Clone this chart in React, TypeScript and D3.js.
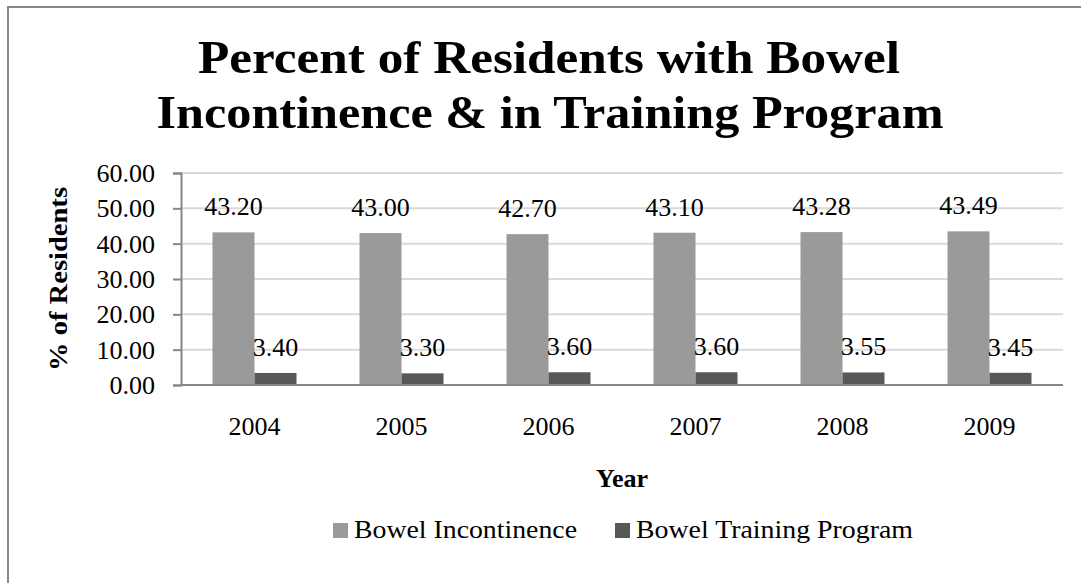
import React, { useEffect, useRef } from "react";
import * as d3 from "d3";

const years = ["2004", "2005", "2006", "2007", "2008", "2009"];
const incontinence = [43.2, 43.0, 42.7, 43.1, 43.28, 43.49];
const training = [3.4, 3.3, 3.6, 3.6, 3.55, 3.45];
const yTicks = [0, 10, 20, 30, 40, 50, 60];
const seriesNames = ["Bowel Incontinence", "Bowel Training Program"];
const seriesColors = ["#9a9a9a", "#585858"];
const titleLines = ["Percent of Residents with Bowel", "Incontinence & in Training Program"];
const xTitle = "Year";
const yTitle = "% of Residents";

const W = 1081;
const H = 583;
const FONT = "'Liberation Serif', 'Times New Roman', serif";

export default function App() {
  const ref = useRef<SVGSVGElement | null>(null);

  useEffect(() => {
    const svg = d3.select(ref.current);
    svg.selectAll("*").remove();

    const left = 181, right = 1063, top = 173, bottom = 385;

    // outer border
    svg.append("rect")
      .attr("x", 8).attr("y", 7).attr("width", W + 20).attr("height", H + 20)
      .attr("fill", "white").attr("stroke", "#868686").attr("stroke-width", 2);

    // title
    const title = svg.append("g").attr("font-family", FONT).attr("font-weight", "bold")
      .attr("font-size", 46).attr("fill", "#000").attr("text-anchor", "middle");
    const titleWidths = [702, 787];
    const titleX = [549, 550];
    titleLines.forEach((t, i) => {
      title.append("text").attr("x", titleX[i]).attr("y", 73 + i * 55)
        .attr("textLength", titleWidths[i]).attr("lengthAdjust", "spacingAndGlyphs")
        .text(t);
    });

    const y = d3.scaleLinear().domain([0, 60]).range([bottom, top]);
    const inner = 1.5 / 3.5;
    const x0 = d3.scaleBand<string>().domain(years).range([left, right])
      .paddingInner(inner).paddingOuter(inner / 2);
    const x1 = d3.scaleBand<number>().domain([0, 1]).range([0, x0.bandwidth()]);

    // gridlines
    svg.append("g").selectAll("line").data(yTicks.filter(d => d > 0)).join("line")
      .attr("x1", left).attr("x2", right)
      .attr("y1", d => y(d)).attr("y2", d => y(d))
      .attr("stroke", "#d9d9d9").attr("stroke-width", 2);

    // bars
    const series = [incontinence, training];
    series.forEach((vals, si) => {
      svg.append("g").selectAll("rect").data(vals).join("rect")
        .attr("x", (d, i) => (x0(years[i]) as number) + (x1(si) as number))
        .attr("width", x1.bandwidth())
        .attr("y", d => y(d))
        .attr("height", d => y(0) - y(d))
        .attr("fill", seriesColors[si]);
    });

    // axes
    const yAxis = d3.axisLeft(y).tickValues(yTicks).tickSize(8).tickPadding(18)
      .tickFormat(d => d3.format(".2f")(d as number));
    const gy = svg.append("g").attr("transform", `translate(${left},0)`).call(yAxis);
    gy.select(".domain").attr("stroke", "#868686").attr("stroke-width", 2);
    gy.selectAll(".tick line").attr("stroke", "#868686").attr("stroke-width", 2);
    gy.selectAll(".tick text").attr("font-family", FONT).attr("font-size", 26)
      .attr("fill", "#000").attr("dy", "0.33em");

    svg.append("line").attr("x1", left).attr("x2", right)
      .attr("y1", bottom).attr("y2", bottom)
      .attr("stroke", "#868686").attr("stroke-width", 2);

    const gx = svg.append("g").attr("font-family", FONT).attr("font-size", 26)
      .attr("text-anchor", "middle").attr("fill", "#000");
    gx.selectAll("text").data(years).join("text")
      .attr("x", d => (x0(d) as number) + x0.bandwidth() / 2)
      .attr("y", 435)
      .text(d => d);

    // value labels
    const lab = svg.append("g").attr("font-family", FONT).attr("font-size", 26)
      .attr("text-anchor", "middle").attr("fill", "#000");
    series.forEach((vals, si) => {
      lab.append("g").selectAll("text").data(vals).join("text")
        .attr("x", (d, i) => (x0(years[i]) as number) + (x1(si) as number) + x1.bandwidth() / 2)
        .attr("y", d => y(d) - 17)
        .text(d => d3.format(".2f")(d));
    });

    // axis titles
    svg.append("text").attr("x", (left + right) / 2).attr("y", 487)
      .attr("text-anchor", "middle").attr("font-family", FONT).attr("font-weight", "bold")
      .attr("font-size", 26).text(xTitle);
    svg.append("text")
      .attr("transform", `translate(67,${(top + bottom) / 2}) rotate(-90)`)
      .attr("text-anchor", "middle").attr("font-family", FONT).attr("font-weight", "bold")
      .attr("font-size", 26).attr("textLength", 184).attr("lengthAdjust", "spacingAndGlyphs")
      .text(yTitle);

    // legend
    const legX = [333, 615];
    const legW = [223, 277];
    const leg = svg.append("g").attr("font-family", FONT).attr("font-size", 25);
    seriesNames.forEach((n, i) => {
      leg.append("rect").attr("x", legX[i]).attr("y", 523).attr("width", 15).attr("height", 15)
        .attr("fill", seriesColors[i]);
      leg.append("text").attr("x", legX[i] + 21).attr("y", 538)
        .attr("textLength", legW[i]).attr("lengthAdjust", "spacingAndGlyphs")
        .text(n);
    });
  }, []);

  return (
    <svg ref={ref} width={W} height={H}
      style={{ position: "absolute", left: 0, top: 0, background: "white" }} />
  );
}
